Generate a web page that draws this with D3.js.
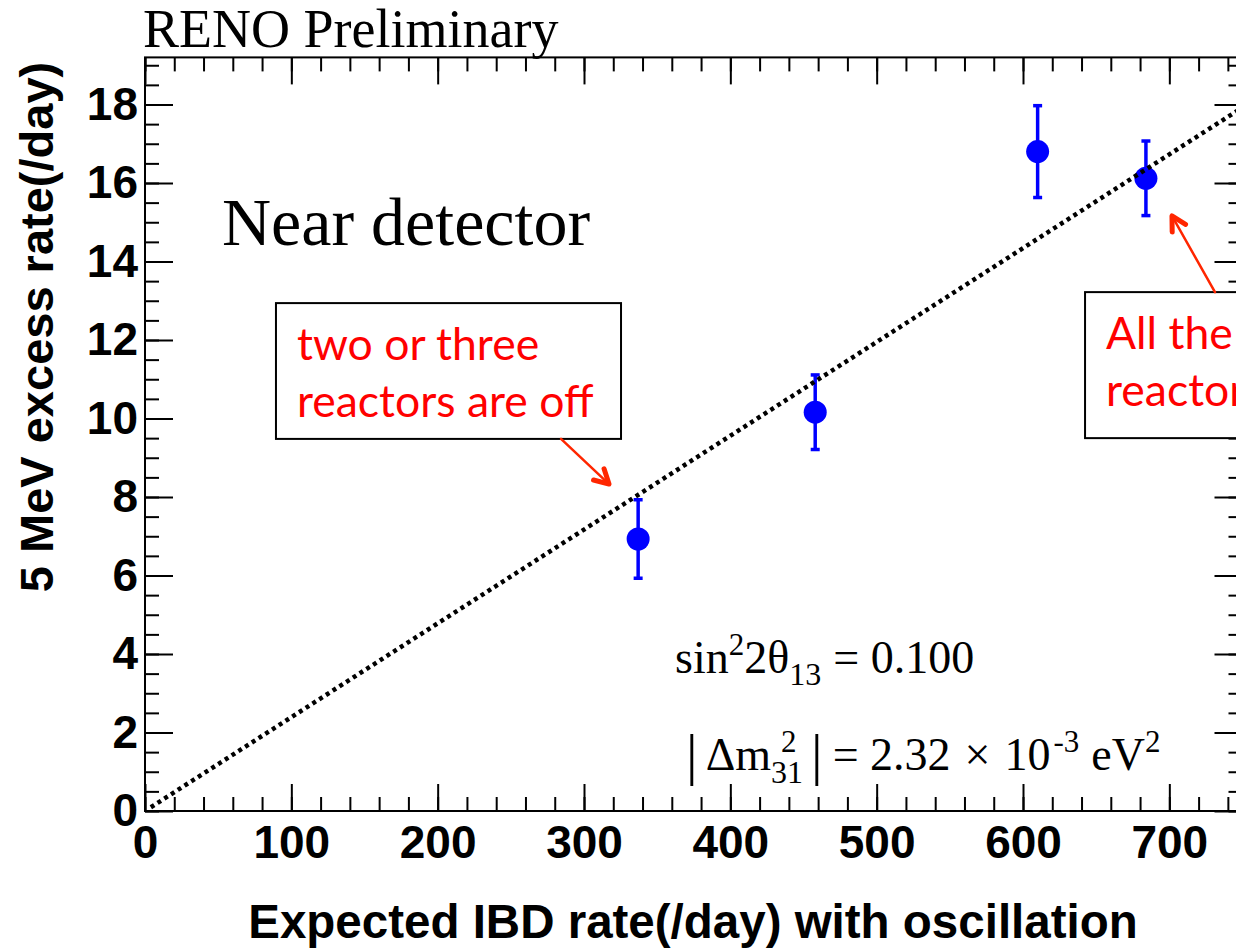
<!DOCTYPE html>
<html lang="en">
  <head>
    <meta charset="UTF-8" />
    <title>RENO near detector 5 MeV excess</title>
    <script src="https://cdn.jsdelivr.net/npm/d3@7"></script>
    <style>
      body {
        margin: 0;
        background: #fff;
      }
      .tick text {
        font-family: "Liberation Sans", Arial, sans-serif;
        font-weight: bold;
        font-size: 46px;
        fill: #000;
      }
      .tick line {
        stroke: #000;
        stroke-width: 2;
      }
      .serif {
        font-family: "Liberation Serif", "Times New Roman", serif;
        fill: #000;
      }
      .note {
        font-family: Lato, "Open Sans", sans-serif;
        font-size: 44.5px;
        fill: #ff0000;
      }
    </style>
  </head>
  <body>
    <svg id="chart" width="1236" height="949"></svg>

    <script>
      // data
      let ibdRate = [337, 458, 610, 684];
      let excessRate = [6.93, 10.16, 16.8, 16.12];
      let excessErr = [1.0, 0.95, 1.17, 0.95];

      // dotted line: excess = slope * ibd
      let fitSlope = 0.0239;
      let fitRange = [4, 750];

      let xMajor = d3.range(0, 751, 100);
      let xMinor = d3.range(0, 751, 20);
      let yMajor = d3.range(0, 19, 2);
      let yMinor = d3.range(0, 19.1, 0.5);

      // annotation boxes, in data units
      let boxes = [
        { x0: 89.5, x1: 325.3, y0: 12.94, y1: 9.48, lines: ["two or three", "reactors are off"] },
        { x0: 642.4, x1: 790, y0: 13.22, y1: 9.5, lines: ["All the", "reactors"] }
      ];
      let arrows = [
        { from: [284.3, 9.48], to: [317.1, 8.33] },
        { from: [731.2, 13.22], to: [701.8, 15.16] }
      ];

      let svg = d3.select("#chart");
      svg.append("rect").attr("width", 1236).attr("height", 949).attr("fill", "#fff");

      let x = d3.scaleLinear().domain([0, 750]).range([145, 1242.5]);
      let y = d3.scaleLinear().domain([0, 19.2]).range([811, 57.4]);

      // ticks (ROOT style, pointing inward on all four sides)
      function ticks(axis, tr, vals, size, labels) {
        let g = svg
          .append("g")
          .attr("transform", tr)
          .call(axis.tickValues(vals).tickSize(size).tickFormat(labels ? d3.format("d") : ""));
        g.select(".domain").remove();
        return g;
      }
      ticks(d3.axisBottom(x), `translate(0,${y(0)})`, xMinor, -14, false);
      ticks(d3.axisBottom(x).tickPadding(14), `translate(0,${y(0)})`, xMajor, -27, true);
      ticks(d3.axisTop(x), `translate(0,${y(19.2)})`, xMinor, -14, false);
      ticks(d3.axisTop(x), `translate(0,${y(19.2)})`, xMajor, -27, false);
      ticks(d3.axisLeft(y), `translate(${x(0)},0)`, yMinor, -14, false);
      ticks(d3.axisLeft(y).tickPadding(7), `translate(${x(0)},0)`, yMajor, -28, true);
      ticks(d3.axisRight(y), `translate(${x(750)},0)`, yMinor, -14, false);
      ticks(d3.axisRight(y), `translate(${x(750)},0)`, yMajor, -28, false);

      // frame
      svg
        .append("rect")
        .attr("x", x(0))
        .attr("y", y(19.2))
        .attr("width", x(750) - x(0))
        .attr("height", y(0) - y(19.2))
        .attr("fill", "none")
        .attr("stroke", "#000")
        .attr("stroke-width", 2);

      // axis titles
      svg
        .append("text")
        .attr("x", 693)
        .attr("y", 938)
        .attr("text-anchor", "middle")
        .style("font-family", "'Liberation Sans', Arial, sans-serif")
        .style("font-weight", "bold")
        .style("font-size", "47.5px")
        .text("Expected IBD rate(/day) with oscillation");
      svg
        .append("text")
        .attr("transform", "translate(53,327) rotate(-90)")
        .attr("text-anchor", "middle")
        .style("font-family", "'Liberation Sans', Arial, sans-serif")
        .style("font-weight", "bold")
        .style("font-size", "47px")
        .text("5 MeV excess rate(/day)");

      svg
        .append("text")
        .attr("class", "serif")
        .attr("x", 143)
        .attr("y", 47)
        .style("font-size", "54px")
        .text("RENO Preliminary");
      svg
        .append("text")
        .attr("class", "serif")
        .attr("x", 222)
        .attr("y", 245)
        .style("font-size", "68px")
        .text("Near detector");

      // data points with error bars
      let pts = svg.append("g").attr("fill", "#0000ff").attr("stroke", "#0000ff");
      ibdRate.forEach(function (d, i) {
        pts
          .append("line")
          .attr("x1", x(d))
          .attr("x2", x(d))
          .attr("y1", y(excessRate[i] - excessErr[i]))
          .attr("y2", y(excessRate[i] + excessErr[i]))
          .attr("stroke-width", 3.5);
        [-1, 1].forEach(function (s) {
          pts
            .append("line")
            .attr("x1", x(d) - 4.5)
            .attr("x2", x(d) + 4.5)
            .attr("y1", y(excessRate[i] + s * excessErr[i]))
            .attr("y2", y(excessRate[i] + s * excessErr[i]))
            .attr("stroke-width", 3.5);
        });
        pts
          .append("circle")
          .attr("cx", x(d))
          .attr("cy", y(excessRate[i]))
          .attr("r", 11.5)
          .attr("stroke", "none");
      });

      // dotted line
      svg
        .append("path")
        .datum(fitRange)
        .attr(
          "d",
          d3
            .line()
            .x((d) => x(d))
            .y((d) => y(fitSlope * d))
        )
        .attr("fill", "none")
        .attr("stroke", "#000")
        .attr("stroke-width", 4.5)
        .attr("stroke-dasharray", "4 4");

      // formula text
      let f1 = svg.append("text").attr("class", "serif").attr("x", 675).attr("y", 673).style("font-size", "46px");
      f1.append("tspan").text("sin");
      f1.append("tspan").attr("dy", -18).style("font-size", "31px").text("2");
      f1.append("tspan").attr("dy", 18).text("2θ");
      f1.append("tspan").attr("dy", 12).style("font-size", "32px").text("13");
      f1.append("tspan").attr("dy", -12).attr("dx", 12).text("= 0.100");

      // stacked super/subscript on Δm: separate text pieces
      let f2 = svg.append("text").attr("class", "serif").attr("x", 686).attr("y", 770).style("font-size", "46px");
      f2.append("tspan").attr("dy", 4).style("font-size", "58px").text("|");
      f2.append("tspan").attr("dx", 8).attr("dy", -4).text("Δm");
      f2.append("tspan").attr("dy", 13).style("font-size", "32px").text("31");
      f2.append("tspan").attr("dx", 8).attr("dy", -9).style("font-size", "58px").text("|");
      f2.append("tspan").attr("dx", 10).attr("dy", -4).text("= 2.32");
      f2.append("tspan").attr("dx", 14).text("×");
      f2.append("tspan").attr("dx", 14).text("10");
      f2.append("tspan").attr("dx", 3).attr("dy", -18).style("font-size", "31px").text("-3");
      f2.append("tspan").attr("dx", 12).attr("dy", 18).text("eV");
      f2.append("tspan").attr("dy", -18).style("font-size", "31px").text("2");
      svg
        .append("text")
        .attr("class", "serif")
        .attr("x", 781)
        .attr("y", 752)
        .style("font-size", "31px")
        .text("2");

      // annotation boxes and arrows
      boxes.forEach(function (b) {
        svg
          .append("rect")
          .attr("x", x(b.x0))
          .attr("y", y(b.y0))
          .attr("width", x(b.x1) - x(b.x0))
          .attr("height", y(b.y1) - y(b.y0))
          .attr("fill", "#fff")
          .attr("stroke", "#000")
          .attr("stroke-width", 2);
        b.lines.forEach(function (t, k) {
          svg
            .append("text")
            .attr("class", "note")
            .attr("x", x(b.x0) + 21)
            .attr("y", y(b.y0) + 57 + k * 57)
            .text(t);
        });
      });

      arrows.forEach(function (a) {
        let x1 = x(a.from[0]),
          y1 = y(a.from[1]),
          x2 = x(a.to[0]),
          y2 = y(a.to[1]);
        let ang = Math.atan2(y2 - y1, x2 - x1);
        let g = svg.append("g").attr("stroke", "#ff2600").attr("fill", "none").attr("stroke-linecap", "round");
        g.append("line").attr("x1", x1).attr("y1", y1).attr("x2", x2).attr("y2", y2).attr("stroke-width", 2.5);
        let head = [ang + Math.PI - 0.5, ang + Math.PI + 0.5].map(function (t) {
          return [x2 + 16 * Math.cos(t), y2 + 16 * Math.sin(t)];
        });
        g.append("path")
          .attr("d", `M${head[0]}L${x2},${y2}L${head[1]}`)
          .attr("stroke-width", 5)
          .attr("stroke-linejoin", "round");
      });
    </script>
  </body>
</html>
